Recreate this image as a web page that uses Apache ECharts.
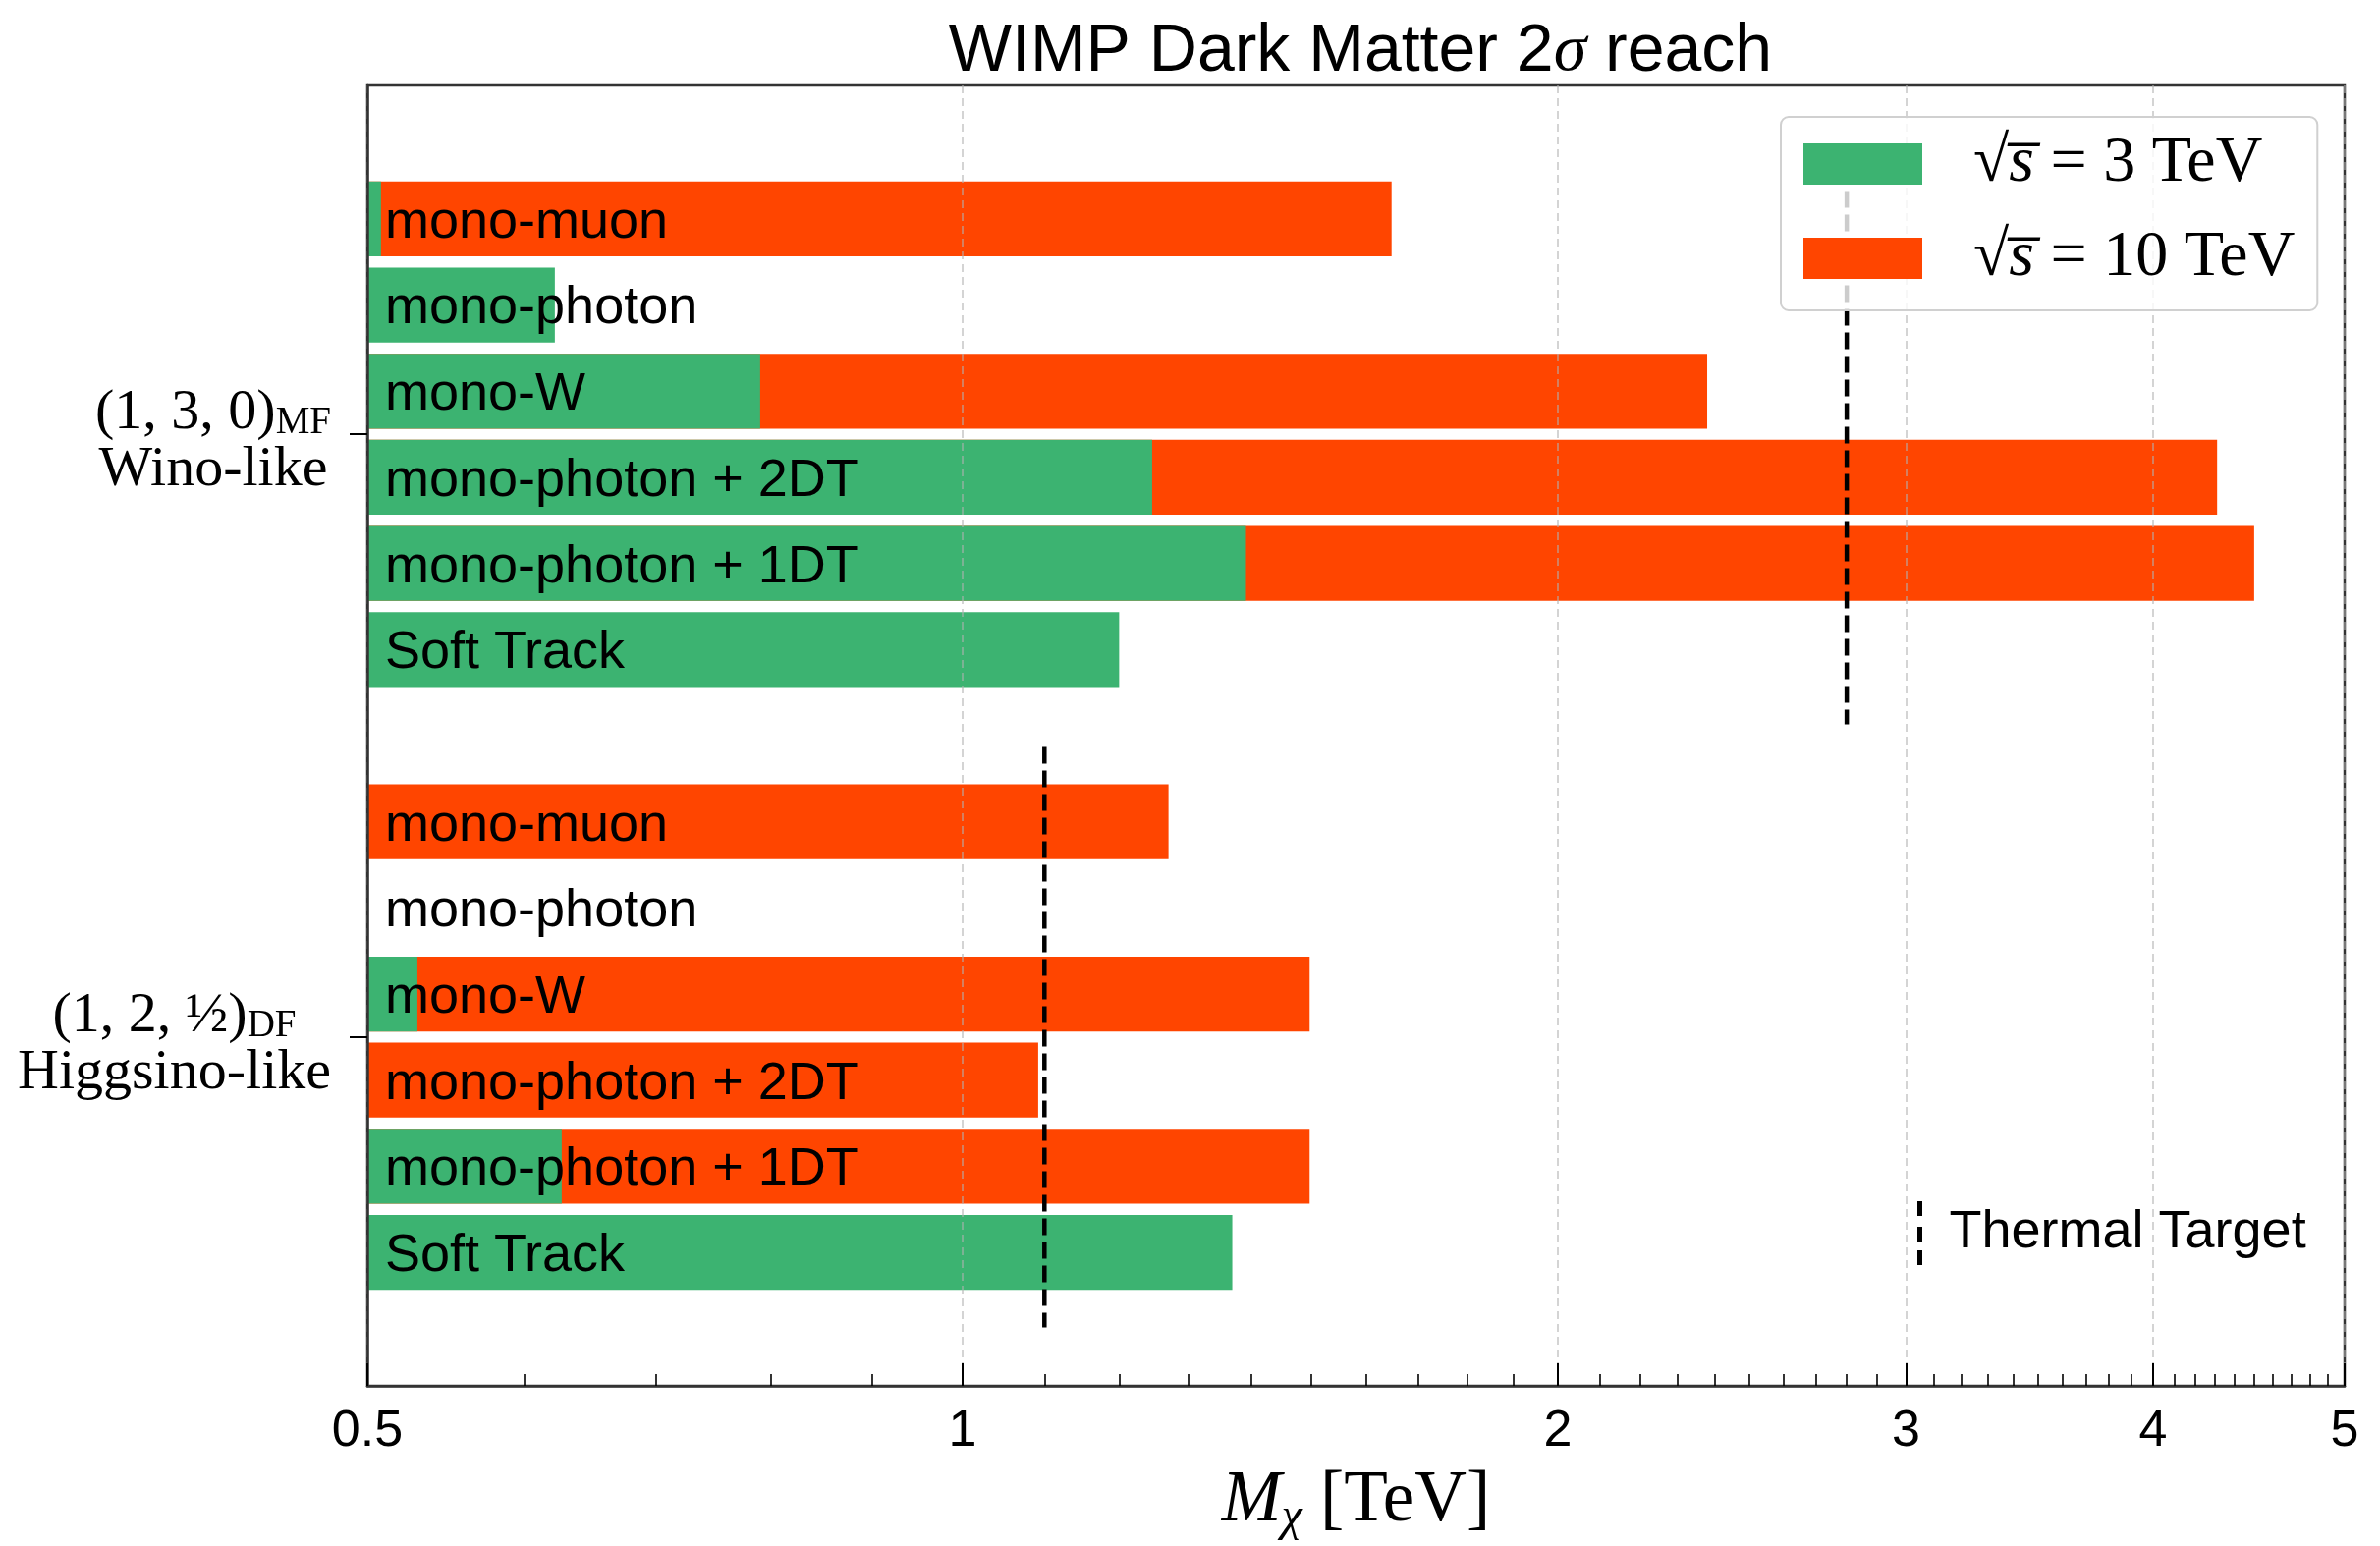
<!DOCTYPE html>
<html>
<head>
<meta charset="utf-8">
<script src="https://cdn.jsdelivr.net/npm/echarts@6/dist/echarts.min.js"></script>
<style>html,body{margin:0;padding:0;background:#fff;}#c{width:2423px;height:1574px;}</style>
</head>
<body>
<div id="c"></div>
<script>
// ---------------- data ----------------
const categories = ['mono-muon', 'mono-photon', 'mono-W', 'mono-photon + 2DT', 'mono-photon + 1DT', 'Soft Track'];
const winoRows = [0, 1, 2, 3, 4, 5];
const higgsRows = [7, 8, 9, 10, 11, 12];
const wino3TeV  = [0.508, 0.622, 0.790, 1.247, 1.391, 1.200];
const wino10TeV = [1.648, null, 2.38, 4.31, 4.50, null];
const higgs3TeV  = [null, null, 0.530, null, 0.627, 1.369];
const higgs10TeV = [1.271, null, 1.498, 1.092, 1.498, null];
const thermalWino = 2.80;
const thermalHiggs = 1.10;
const groupCenters = [2.5, 9.5];
const groupLabels = ['{n|(1, 3, 0)}{s|MF}\n{n|Wino-like}', '{n|(1, 2, ½)}{s|DF}\n{n|Higgsino-like}'];
const xTicks = [0.5, 1, 2, 3, 4, 5];
const xTickLabels = ['0.5', '1', '2', '3', '4', '5'];
const xMinorTicks = [0.6, 0.7, 0.8, 0.9,
  1.1, 1.2, 1.3, 1.4, 1.5, 1.6, 1.7, 1.8, 1.9,
  2.1, 2.2, 2.3, 2.4, 2.5, 2.6, 2.7, 2.8, 2.9,
  3.1, 3.2, 3.3, 3.4, 3.5, 3.6, 3.7, 3.8, 3.9,
  4.1, 4.2, 4.3, 4.4, 4.5, 4.6, 4.7, 4.8, 4.9];

// ---------------- build ----------------
const XMIN = 0.5, XMAX = 5;
const BAR_H = 0.87;
const HALF_SPAN = 3.37;
const SANS = '"Liberation Sans", Arial, sans-serif';
const SERIF = '"Liberation Serif", "Times New Roman", serif';

function pairs(vals, rows) {
  const out = [];
  vals.forEach((v, i) => { if (v != null) out.push([v, rows[i]]); });
  return out;
}
const data3 = pairs(wino3TeV, winoRows).concat(pairs(higgs3TeV, higgsRows));
const data10 = pairs(wino10TeV, winoRows).concat(pairs(higgs10TeV, higgsRows));
const labelData = winoRows.map((r, i) => [XMIN, r, i]).concat(higgsRows.map((r, i) => [XMIN, r, i]));

function barRender(params, api) {
  const v = api.value(0), r = api.value(1);
  const p0 = api.coord([XMIN, r - BAR_H / 2]);
  const p1 = api.coord([v, r + BAR_H / 2]);
  return {
    type: 'rect',
    shape: { x: p0[0], y: p0[1], width: p1[0] - p0[0], height: p1[1] - p0[1] },
    style: api.style()
  };
}
function labelRender(params, api) {
  const r = api.value(1), idx = api.value(2);
  const p = api.coord([XMIN, r]);
  return {
    type: 'text',
    x: p[0] + 18,
    y: p[1] + 4,
    style: {
      text: categories[idx],
      font: '54px ' + SANS,
      fill: '#000',
      align: 'left',
      verticalAlign: 'middle'
    }
  };
}

const chart = echarts.init(document.getElementById('c'), null, { renderer: 'canvas' });
const option = {
  animation: false,
  backgroundColor: '#fff',
  title: {
    text: '{a|WIMP Dark Matter 2}{b|σ}{a| reach}',
    left: 1380,
    top: 8,
    textAlign: 'center',
    textStyle: {
      fontWeight: 'normal',
      rich: {
        a: { fontFamily: SANS, fontWeight: 'normal', fontSize: 68, color: '#000', lineHeight: 80 },
        b: { fontFamily: SERIF, fontWeight: 'normal', fontStyle: 'italic', fontSize: 68, color: '#000', lineHeight: 80 }
      }
    }
  },
  grid: {
    left: 374, right: 36, top: 87, bottom: 153,
    show: true, borderColor: '#333', borderWidth: 2.5, backgroundColor: 'transparent',
    containLabel: false
  },
  legend: [{
    data: ['3 TeV', '10 TeV'],
    orient: 'vertical',
    left: 1813, top: 119,
    padding: [15, 23, 20, 23],
    itemGap: 30,
    itemWidth: 121, itemHeight: 42,
    icon: 'rect',
    backgroundColor: 'rgba(255,255,255,0.8)',
    borderColor: '#d0d0d0', borderWidth: 2, borderRadius: 8,
    selectedMode: false,
    z: 10,
    formatter: function (name) {
      return '{r|√}{s|s\u0305}{t| = ' + name + '}';
    },
    textStyle: {
      lineHeight: 60,
      rich: {
        r: { fontFamily: SERIF, fontSize: 66, color: '#000', lineHeight: 60, padding: [0, 0, 0, 47] },
        s: { fontFamily: SERIF, fontStyle: 'italic', fontSize: 66, color: '#000', lineHeight: 60 },
        t: { fontFamily: SERIF, fontSize: 66, color: '#000', lineHeight: 60 }
      }
    }
  }, {
    data: [{ name: 'Thermal Target', icon: 'path://M0,0h5v15h-5z M0,26h5v15h-5z M0,50h5v15h-5z' }],
    left: 1952, top: 1214,
    padding: 0,
    itemWidth: 6, itemHeight: 65,
    selectedMode: false,
    z: 10,
    itemStyle: { color: '#000', borderWidth: 0 },
    textStyle: { fontFamily: SANS, fontSize: 54, color: '#000', lineHeight: 65, padding: [18, 0, 0, 22] }
  }],
  xAxis: [{
    type: 'log', logBase: 10, min: XMIN, max: XMAX,
    z: 3,
    axisLine: { show: true, onZero: false, lineStyle: { color: '#333', width: 2.5 } },
    axisTick: { show: true, inside: true, length: 23, customValues: xTicks, lineStyle: { color: '#000', width: 2 } },
    axisLabel: {
      customValues: xTicks,
      margin: 21,
      color: '#000', fontFamily: SANS, fontSize: 52,
      formatter: function (v) {
        const i = xTicks.findIndex(t => Math.abs(t - v) < 1e-6);
        return i >= 0 ? xTickLabels[i] : '';
      }
    },
    splitLine: { show: true, lineStyle: { color: 'rgba(176,176,176,0.55)', width: 2, type: [8, 5] } },
    name: '{m|M}{c|χ}{u| [TeV]}',
    nameLocation: 'middle',
    nameGap: 78,
    nameTextStyle: {
      rich: {
        m: { fontFamily: SERIF, fontStyle: 'italic', fontSize: 73, color: '#000', lineHeight: 80 },
        c: { fontFamily: SERIF, fontStyle: 'italic', fontSize: 48, color: '#000', lineHeight: 26, verticalAlign: 'bottom' },
        u: { fontFamily: SERIF, fontSize: 73, color: '#000', lineHeight: 80 }
      }
    }
  }, {
    type: 'log', logBase: 10, min: XMIN, max: XMAX,
    position: 'bottom',
    z: 3,
    axisLine: { show: false, onZero: false },
    axisTick: { show: true, inside: true, length: 12, customValues: xMinorTicks, lineStyle: { color: '#000', width: 1.6 } },
    axisLabel: { show: false },
    splitLine: { show: false }
  }],
  yAxis: [{
    type: 'value', min: -1.55, max: 13.55, inverse: true,
    z: 3,
    axisLine: { show: true, onZero: false, lineStyle: { color: '#333', width: 2.5 } },
    axisTick: { show: true, inside: false, length: 18, customValues: groupCenters, lineStyle: { color: '#000', width: 2 } },
    axisLabel: {
      customValues: groupCenters,
      margin: 37,
      padding: [16, 0, 0, 0],
      formatter: function (v) {
        const i = groupCenters.findIndex(t => Math.abs(t - v) < 1e-6);
        return i >= 0 ? groupLabels[i] : '';
      },
      rich: {
        n: { fontFamily: SERIF, fontSize: 58, color: '#000', lineHeight: 58, align: 'center' },
        s: { fontFamily: SERIF, fontSize: 39, color: '#000', lineHeight: 34, verticalAlign: 'bottom', align: 'center' }
      }
    },
    splitLine: { show: false }
  }],
  series: [{
    name: '10 TeV', type: 'custom', renderItem: barRender,
    xAxisIndex: 0, yAxisIndex: 0,
    itemStyle: { color: '#ff4500' },
    encode: { x: 0, y: 1 },
    data: data10, z: 2, silent: true
  }, {
    name: '3 TeV', type: 'custom', renderItem: barRender,
    xAxisIndex: 0, yAxisIndex: 0,
    itemStyle: { color: '#3cb371' },
    encode: { x: 0, y: 1 },
    data: data3, z: 2, silent: true
  }, {
    name: 'labels', type: 'custom', renderItem: labelRender,
    xAxisIndex: 0, yAxisIndex: 0,
    encode: { x: 0, y: 1 },
    data: labelData, z: 6, silent: true
  }, {
    name: 'Thermal Target', type: 'line',
    xAxisIndex: 0, yAxisIndex: 0,
    symbol: 'none',
    itemStyle: { color: '#000' },
    lineStyle: { color: '#000', width: 4.5, type: [17, 7] },
    data: [[thermalWino, groupCenters[0] - HALF_SPAN], [thermalWino, groupCenters[0] + HALF_SPAN]],
    z: 5, silent: true
  }, {
    name: 'Thermal Target', type: 'line',
    xAxisIndex: 0, yAxisIndex: 0,
    symbol: 'none',
    itemStyle: { color: '#000' },
    lineStyle: { color: '#000', width: 4.5, type: [17, 7] },
    data: [[thermalHiggs, groupCenters[1] - HALF_SPAN], [thermalHiggs, groupCenters[1] + HALF_SPAN]],
    z: 5, silent: true
  }]
};
chart.setOption(option);
</script>
</body>
</html>
